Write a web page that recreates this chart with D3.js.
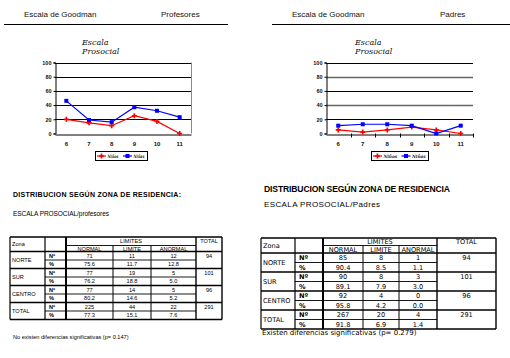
<!DOCTYPE html>
<html><head><meta charset="utf-8">
<script src="https://cdn.jsdelivr.net/npm/d3@7"></script>
<style>html,body{margin:0;padding:0;background:#fff}svg{display:block}</style>
</head><body>
<script>
// ---- data ----
const ages = ["6","7","8","9","10","11"];
const profRed = [20,15,11,25,17,0];
const profBlue = [46,19,16,37,32,23];
const padRed = [5,2,5,9,5,0];
const padBlue = [11,13,13,11,0,11];
const yTicks = [0,20,40,60,80,100];
const seriesNames = ["Niños","Niñas"];
const zonas = ["NORTE","SUR","CENTRO","TOTAL"];
const limites = ["NORMAL","LIMITE","ANORMAL"];
const profN = [[71,11,12],[77,19,5],[77,14,5],[225,44,22]];
const profPct = [["75.6","11.7","12.8"],["76.2","18.8","5.0"],["80.2","14.6","5.2"],["77.3","15.1","7.6"]];
const profTot = [94,101,96,291];
const padN = [[85,8,1],[90,8,3],[92,4,0],[267,20,4]];
const padPct = [["90.4","8.5","1.1"],["89.1","7.9","3.0"],["95.8","4.2","0.0"],["91.8","6.9","1.4"]];
const padTot = [94,101,96,291];

const W = 510, H = 358;
const svg = d3.select("body").append("svg").attr("width", W).attr("height", H);

// ---- page headers ----
function header(x1, x2, lx1, lx2, t1, t2) {
  svg.append("text").attr("x", x1).attr("y", 16.5).text(t1)
    .attr("font-family", "Liberation Sans, Arial").attr("font-size", 8).attr("fill", "#111");
  svg.append("text").attr("x", x2).attr("y", 16.5).text(t2)
    .attr("font-family", "Liberation Sans, Arial").attr("font-size", 8).attr("fill", "#111");
  svg.append("line").attr("x1", lx1).attr("x2", lx2).attr("y1", 24.5).attr("y2", 24.5)
    .attr("stroke", "#000").attr("stroke-width", 1);
}
header(24, 161, 4, 228, "Escala de Goodman", "Profesores");
header(292, 440, 272, 510, "Escala de Goodman", "Padres");

// ---- charts ----
function chart(cfg) {
  const g = svg.append("g");
  const x = d3.scaleBand().domain(ages).range([cfg.left, cfg.right]);
  const y = d3.scaleLinear().domain([0, 100]).range([cfg.bottom, cfg.top]);
  const tt = g.append("text").attr("font-family", "DejaVu Serif, serif").attr("font-style", "italic")
    .attr("font-size", 8).attr("fill", "#111");
  tt.append("tspan").attr("x", cfg.tx).attr("y", 44.5).text("Escala");
  tt.append("tspan").attr("x", cfg.tx).attr("y", 54).text("Prosocial");
  g.selectAll(".grid").data(yTicks.filter(d => d > 0)).enter().append("line")
    .attr("x1", cfg.left).attr("x2", cfg.right)
    .attr("y1", d => Math.round(y(d)) + 0.5).attr("y2", d => Math.round(y(d)) + 0.5)
    .attr("stroke", (d) => cfg.grey.includes(d) ? "#666" : "#000").attr("stroke-width", d => cfg.grey.includes(d) ? 1.6 : 1);
  const ya = d3.axisLeft(y).tickValues(yTicks).tickSize(2).tickPadding(2);
  const yg = g.append("g").attr("transform", `translate(${cfg.left + 0.5},0)`).call(ya);
  yg.selectAll("text").attr("font-family", "Liberation Sans, Arial").attr("font-size", 5.5).attr("font-weight", "bold").attr("fill", "#111");
  yg.select(".domain").attr("stroke", "#000");
  const xa = d3.axisBottom(x).tickSize(0).tickPadding(7);
  const xg = g.append("g").attr("transform", `translate(0,${Math.round(cfg.bottom) + 0.5})`).call(xa);
  xg.selectAll("text").attr("font-family", "Liberation Sans, Arial").attr("font-size", 6).attr("font-weight", "bold").attr("fill", "#111");
  xg.select(".domain").attr("stroke", "#000");
  if (cfg.ticks) {
    g.selectAll(".xt").data(ages).enter().append("line")
      .attr("x1", (d, i) => Math.round(cfg.left + (i + 1) * x.bandwidth()) + 0.5)
      .attr("x2", (d, i) => Math.round(cfg.left + (i + 1) * x.bandwidth()) + 0.5)
      .attr("y1", cfg.bottom).attr("y2", cfg.bottom + 4).attr("stroke", "#000");
  }
  if (cfg.frame) {
    g.append("line").attr("x1", cfg.right + 0.5).attr("x2", cfg.right + 0.5).attr("y1", cfg.top).attr("y2", cfg.bottom)
      .attr("stroke", "#888");
  }
  const cx = d => x(d) + x.bandwidth() / 2;
  const line = (vals) => d3.line().x((d, i) => cx(ages[i])).y(d => y(d))(vals);
  g.append("path").attr("d", line(cfg.red)).attr("fill", "none").attr("stroke", "#f00").attr("stroke-width", 1.2);
  g.append("path").attr("d", line(cfg.blue)).attr("fill", "none").attr("stroke", "#00f").attr("stroke-width", 1.2);
  const star = d3.symbol().type(d3.symbolCross).size(14);
  g.selectAll(".rm").data(cfg.red).enter().append("path")
    .attr("d", star).attr("transform", (d, i) => `translate(${cx(ages[i])},${y(d)})`).attr("fill", "#f00");
  g.selectAll(".bm").data(cfg.blue).enter().append("rect")
    .attr("x", (d, i) => cx(ages[i]) - 2).attr("y", d => y(d) - 2).attr("width", 4).attr("height", 4).attr("fill", "#00f");
  const L = cfg.leg;
  g.append("rect").attr("x", L.x + 0.5).attr("y", 151.5).attr("width", L.w).attr("height", 9)
    .attr("fill", "#fff").attr("stroke", "#000");
  const half = L.w / 2;
  [[cfg.red, "#f00", seriesNames[0]], [cfg.blue, "#00f", seriesNames[1]]].forEach((s, k) => {
    const x0 = L.x + 2 + k * half;
    g.append("line").attr("x1", x0).attr("x2", x0 + 9).attr("y1", 156).attr("y2", 156).attr("stroke", s[1]).attr("stroke-width", 1.2);
    if (k === 0) g.append("path").attr("d", star).attr("transform", `translate(${x0 + 4.5},156)`).attr("fill", s[1]);
    else g.append("rect").attr("x", x0 + 2.5).attr("y", 154).attr("width", 4).attr("height", 4).attr("fill", s[1]);
    g.append("text").attr("x", x0 + 10.5).attr("y", 158).text(s[2]).attr("font-family", "DejaVu Serif, serif")
      .attr("font-style", "italic").attr("font-weight", "bold").attr("font-size", 4.6).attr("fill", "#111")
      .attr("textLength", half - 15).attr("lengthAdjust", "spacingAndGlyphs");
  });
}
chart({left: 55, right: 191, top: 62.5, bottom: 133.5, tx: 82, red: profRed, blue: profBlue, grey: [], ticks: false, frame: true, leg: {x: 95, w: 52}});
chart({left: 326, right: 473, top: 62.5, bottom: 133.5, tx: 355, red: padRed, blue: padBlue, grey: [80, 40], ticks: true, frame: false, leg: {x: 371, w: 57}});

// ---- section texts ----
svg.append("text").attr("x", 13).attr("y", 196.5).text("DISTRIBUCION SEGÚN ZONA DE RESIDENCIA:")
  .attr("font-family", "Liberation Sans, Arial").attr("font-weight", "bold").attr("font-size", 7).attr("fill", "#000").attr("textLength", 168);
svg.append("text").attr("x", 13).attr("y", 215.5).text("ESCALA PROSOCIAL/profesores")
  .attr("font-family", "Liberation Sans, Arial").attr("font-size", 6.5).attr("fill", "#000").attr("textLength", 96);
svg.append("text").attr("x", 264).attr("y", 191.5).text("DISTRIBUCION SEGÚN ZONA DE RESIDENCIA")
  .attr("font-family", "Liberation Sans, Arial").attr("font-weight", "bold").attr("font-size", 8.6).attr("fill", "#000").attr("textLength", 186);
svg.append("text").attr("x", 264).attr("y", 206.5).text("ESCALA PROSOCIAL/Padres")
  .attr("font-family", "Liberation Sans, Arial").attr("font-size", 8).attr("fill", "#000").attr("textLength", 116);

// ---- tables ----
function table(cfg) {
  const g = svg.append("g").attr("font-family", cfg.font).attr("font-size", cfg.fs).attr("fill", "#000");
  const c = cfg.cols, r = cfg.rows;
  const rowY = i => r[2] + i * cfg.rh;
  const lines = [];
  const Hl = (y, x1, x2, w) => lines.push({x1, x2, y1: y, y2: y, w});
  const V = (x, y1, y2, w) => lines.push({x1: x, x2: x, y1, y2, w});
  const bottom = rowY(8);
  Hl(r[0], c[0], c[6], 1.4);
  Hl(r[1], c[2], c[5], 0.9);
  for (let k = 0; k <= 8; k++) {
    if (k % 2 === 0) Hl(rowY(k), c[0], c[6], 1.4);
    else Hl(rowY(k), c[1], c[5], 0.9);
  }
  V(c[0], r[0], bottom, 1.2);
  V(c[1], r[0], bottom, 1.2);
  V(c[2], r[0], bottom, 2);
  V(c[3], r[1], bottom, 1);
  V(c[4], r[1], bottom, 1);
  V(c[5], r[0], bottom, 1.4);
  V(c[6], r[0], bottom, 1.4);
  g.selectAll("line").data(lines).enter().append("line")
    .attr("x1", d => d.x1).attr("x2", d => d.x2).attr("y1", d => d.y1).attr("y2", d => d.y2)
    .attr("stroke", "#000").attr("stroke-width", d => d.w);
  const txt = (x, y, s, anchor, bold) => g.append("text").attr("x", x).attr("y", y + cfg.fs * 0.36)
    .attr("text-anchor", anchor).attr("font-weight", bold ? "bold" : "normal").text(s);
  txt(c[0] + 2, (r[0] + r[2]) / 2, "Zona", "start");
  txt((c[2] + c[5]) / 2, (r[0] + r[1]) / 2, "LIMITES", "middle");
  txt((c[5] + c[6]) / 2, (r[0] + r[1]) / 2, "TOTAL", "middle");
  limites.forEach((l, j) => txt((c[2 + j] + c[3 + j]) / 2, (r[1] + r[2]) / 2, l, "middle"));
  zonas.forEach((z, i) => {
    const yN = rowY(2 * i) + cfg.rh / 2, yP = rowY(2 * i + 1) + cfg.rh / 2;
    txt(c[0] + 2, (yN + yP) / 2, z, "start");
    txt(c[1] + 4, yN, "Nº", "start", true);
    txt(c[1] + 4, yP, "%", "start", true);
    cfg.n[i].forEach((v, j) => txt((c[2 + j] + c[3 + j]) / 2, yN, v, "middle"));
    cfg.p[i].forEach((v, j) => txt((c[2 + j] + c[3 + j]) / 2, yP, v, "middle"));
    txt((c[5] + c[6]) / 2, yN, cfg.t[i], "middle");
  });
  g.append("text").attr("x", cfg.note.x).attr("y", cfg.note.y).attr("font-size", cfg.note.fs).text(cfg.note.s);
}
table({cols: [10, 45, 66, 113, 151, 196, 222], rows: [237, 245.5, 251.5], rh: 8.5, font: "Liberation Sans Narrow, Liberation Sans, Arial", fs: 5.6,
  n: profN, p: profPct, t: profTot, note: {x: 13, y: 339, fs: 5.6, s: "No existen diferencias significativas (p= 0.147)"}});
table({cols: [261, 295, 323, 363, 399, 437, 496], rows: [238, 245.5, 253], rh: 9.5, font: "DejaVu Sans, Verdana", fs: 6.6,
  n: padN, p: padPct, t: padTot, note: {x: 262, y: 335, fs: 7, s: "Existen diferencias significativas (p= 0.279)"}});
</script>
</body></html>
